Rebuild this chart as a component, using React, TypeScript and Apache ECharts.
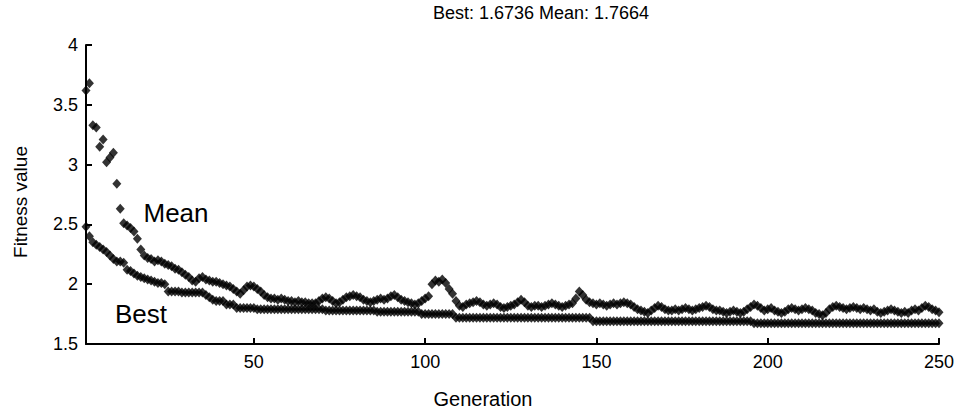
import React, { useEffect, useRef } from "react";
import * as echarts from "echarts";

// GA run: mean and best fitness per generation
const meanFitness: number[] = [
  3.62, 3.68, 3.33, 3.31, 3.15, 3.21, 3.02, 3.06, 3.10, 2.84,
  2.63, 2.51, 2.49, 2.47, 2.44, 2.38, 2.29, 2.24, 2.22, 2.21,
  2.19, 2.20, 2.19, 2.17, 2.16, 2.15, 2.13, 2.12, 2.10, 2.08,
  2.06, 2.03, 2.02, 2.05, 2.06, 2.04, 2.03, 2.02, 2.02, 2.01,
  2.00, 1.99, 1.98, 1.96, 1.94, 1.92, 1.95, 1.98, 1.99, 1.98,
  1.96, 1.94, 1.91, 1.89, 1.88, 1.88, 1.87, 1.88, 1.87, 1.86,
  1.86, 1.85, 1.86, 1.85, 1.85, 1.84, 1.84, 1.84, 1.86, 1.88,
  1.89, 1.88, 1.86, 1.84, 1.85, 1.87, 1.89, 1.90, 1.91, 1.90,
  1.89, 1.87, 1.86, 1.85, 1.86, 1.87, 1.88, 1.87, 1.88, 1.90,
  1.91, 1.89, 1.87, 1.86, 1.85, 1.84, 1.83, 1.84, 1.86, 1.88,
  1.90, 2.00, 2.03, 2.02, 2.04, 2.01, 1.96, 1.92, 1.86, 1.82,
  1.81, 1.83, 1.84, 1.85, 1.86, 1.85, 1.83, 1.82, 1.83, 1.84,
  1.83, 1.81, 1.80, 1.81, 1.82, 1.83, 1.85, 1.87, 1.85, 1.82,
  1.81, 1.82, 1.82, 1.81, 1.82, 1.83, 1.84, 1.83, 1.82, 1.81,
  1.82, 1.83, 1.84, 1.88, 1.94, 1.91, 1.87, 1.85, 1.84, 1.83,
  1.84, 1.83, 1.82, 1.83, 1.84, 1.83, 1.84, 1.85, 1.84, 1.83,
  1.81, 1.79, 1.78, 1.77, 1.76, 1.78, 1.80, 1.82, 1.81, 1.79,
  1.78, 1.78, 1.79, 1.78, 1.79, 1.80, 1.79, 1.78, 1.79, 1.80,
  1.81, 1.82, 1.81, 1.79, 1.78, 1.78, 1.77, 1.76, 1.77, 1.78,
  1.77, 1.76, 1.77, 1.79, 1.81, 1.83, 1.82, 1.80, 1.78, 1.79,
  1.80, 1.78, 1.77, 1.76, 1.77, 1.79, 1.80, 1.79, 1.78, 1.79,
  1.80, 1.79, 1.78, 1.76, 1.75, 1.74, 1.76, 1.79, 1.81, 1.82,
  1.81, 1.80, 1.79, 1.80, 1.81, 1.80, 1.79, 1.80, 1.79, 1.78,
  1.79, 1.77, 1.76, 1.77, 1.78, 1.79, 1.78, 1.77, 1.76, 1.77,
  1.76, 1.78, 1.79, 1.78, 1.80, 1.82, 1.81, 1.79, 1.78, 1.7664,
];

const bestFitness: number[] = [
  2.48, 2.40, 2.35, 2.33, 2.31, 2.29, 2.27, 2.24, 2.21, 2.19,
  2.19, 2.18, 2.12, 2.11, 2.09, 2.07, 2.06, 2.05, 2.04, 2.03,
  2.02, 2.01, 2.01, 2.00, 1.94, 1.94, 1.94, 1.94, 1.93, 1.93,
  1.93, 1.93, 1.93, 1.93, 1.93, 1.91, 1.89, 1.87, 1.86, 1.86,
  1.86, 1.83, 1.83, 1.83, 1.80, 1.80, 1.80, 1.80, 1.80, 1.80,
  1.79, 1.79, 1.79, 1.79, 1.79, 1.79, 1.79, 1.79, 1.79, 1.79,
  1.79, 1.79, 1.79, 1.79, 1.79, 1.79, 1.79, 1.79, 1.79, 1.79,
  1.78, 1.78, 1.78, 1.78, 1.78, 1.78, 1.78, 1.78, 1.78, 1.78,
  1.78, 1.78, 1.78, 1.78, 1.78, 1.77, 1.77, 1.77, 1.77, 1.77,
  1.77, 1.77, 1.77, 1.77, 1.77, 1.77, 1.77, 1.77, 1.75, 1.75,
  1.75, 1.75, 1.75, 1.75, 1.75, 1.75, 1.75, 1.75, 1.72, 1.72,
  1.72, 1.72, 1.72, 1.72, 1.72, 1.72, 1.72, 1.72, 1.72, 1.72,
  1.72, 1.72, 1.72, 1.72, 1.72, 1.72, 1.72, 1.72, 1.72, 1.72,
  1.72, 1.72, 1.72, 1.72, 1.72, 1.72, 1.72, 1.72, 1.72, 1.72,
  1.72, 1.72, 1.72, 1.72, 1.72, 1.72, 1.72, 1.72, 1.69, 1.69,
  1.69, 1.69, 1.69, 1.69, 1.69, 1.69, 1.69, 1.69, 1.69, 1.69,
  1.69, 1.69, 1.69, 1.69, 1.69, 1.69, 1.69, 1.69, 1.69, 1.69,
  1.69, 1.69, 1.69, 1.69, 1.69, 1.69, 1.69, 1.69, 1.69, 1.69,
  1.69, 1.69, 1.69, 1.69, 1.69, 1.69, 1.69, 1.69, 1.69, 1.69,
  1.69, 1.69, 1.69, 1.69, 1.69, 1.6736, 1.6736, 1.6736, 1.6736, 1.6736,
  1.6736, 1.6736, 1.6736, 1.6736, 1.6736, 1.6736, 1.6736, 1.6736, 1.6736, 1.6736,
  1.6736, 1.6736, 1.6736, 1.6736, 1.6736, 1.6736, 1.6736, 1.6736, 1.6736, 1.6736,
  1.6736, 1.6736, 1.6736, 1.6736, 1.6736, 1.6736, 1.6736, 1.6736, 1.6736, 1.6736,
  1.6736, 1.6736, 1.6736, 1.6736, 1.6736, 1.6736, 1.6736, 1.6736, 1.6736, 1.6736,
  1.6736, 1.6736, 1.6736, 1.6736, 1.6736, 1.6736, 1.6736, 1.6736, 1.6736, 1.6736,
];

const xTickValues = [50, 100, 150, 200, 250];
const titleText = "Best: 1.6736 Mean: 1.7664";
const xAxisTitle = "Generation";
const yAxisTitle = "Fitness value";
const meanLabel = "Mean";
const bestLabel = "Best";

const FONT = '"Liberation Sans", Arial, Helvetica, sans-serif';

export default function App() {
  const ref = useRef<HTMLDivElement>(null);

  useEffect(() => {
    if (!ref.current) return;
    const chart = echarts.init(ref.current, null, { renderer: "svg" });
    const toPairs = (arr: number[]) => arr.map((v, i) => [i + 1, v]);
    const plainText = (x: number, y: number, text: string, fontSize: number, rotation = 0) => ({
      type: "text",
      x,
      y,
      rotation,
      style: { text, fontSize, fontFamily: FONT, fill: "#000", align: "center", verticalAlign: "middle" },
    });

    chart.setOption({
      animation: false,
      backgroundColor: "#ffffff",
      textStyle: { fontFamily: FONT, color: "#000" },
      grid: { left: 86, right: 19, top: 45, bottom: 71 },
      xAxis: {
        type: "value",
        min: 1,
        max: 250,
        splitLine: { show: false },
        axisLine: { show: true, lineStyle: { color: "#000", width: 2 } },
        axisTick: {
          show: true,
          inside: true,
          length: 6,
          customValues: xTickValues,
          lineStyle: { color: "#000", width: 2 },
        },
        axisLabel: {
          customValues: xTickValues,
          fontSize: 18,
          color: "#000",
          fontFamily: FONT,
          margin: 9,
        },
      },
      yAxis: {
        type: "value",
        min: 1.5,
        max: 4,
        interval: 0.5,
        splitLine: { show: false },
        axisLine: { show: true, lineStyle: { color: "#000", width: 2 } },
        axisTick: { show: true, inside: true, length: 6, lineStyle: { color: "#000", width: 2 } },
        axisLabel: { fontSize: 18, color: "#000", fontFamily: FONT, margin: 8 },
      },
      graphic: [
        plainText(541, 13, titleText, 18),
        plainText(483, 399, xAxisTitle, 20),
        plainText(20, 202, yAxisTitle, 19, Math.PI / 2),
        plainText(176, 213, meanLabel, 26),
        plainText(141, 314, bestLabel, 26),
      ],
      series: [
        {
          name: "Mean",
          type: "scatter",
          symbol: "diamond",
          symbolSize: [9, 10],
          itemStyle: { color: "#000" },
          data: toPairs(meanFitness),
        },
        {
          name: "Best",
          type: "scatter",
          symbol: "diamond",
          symbolSize: [9, 10],
          itemStyle: { color: "#000" },
          data: toPairs(bestFitness),
        },
      ],
    });

    return () => chart.dispose();
  }, []);

  return (
    <div
      ref={ref}
      style={{ position: "fixed", left: 0, top: 0, width: 958, height: 415, background: "#fff" }}
    />
  );
}
